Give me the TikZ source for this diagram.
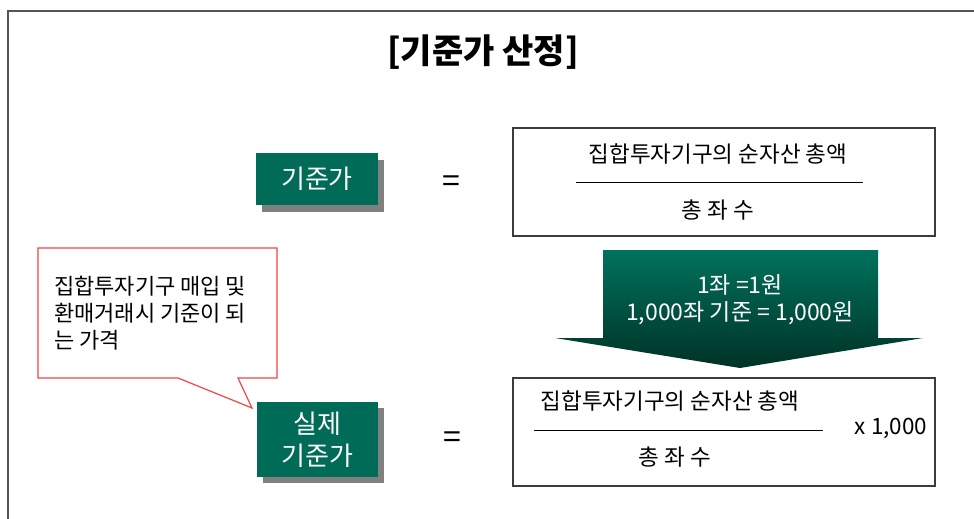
\documentclass[tikz,border=0pt]{standalone}
\usepackage{fontspec}
\setmainfont{Noto Sans CJK KR}
\definecolor{boxgreen}{RGB}{0,108,88}
\definecolor{arrowtop}{RGB}{0,114,92}
\definecolor{arrowbot}{RGB}{0,50,38}
\definecolor{shadowgray}{RGB}{128,128,128}
\definecolor{framegray}{RGB}{85,85,85}
\definecolor{calloutred}{RGB}{240,70,70}
\definecolor{boxline}{RGB}{60,60,60}
\tikzset{
  greenbox/.style={fill=boxgreen, text=white, inner sep=0pt, align=center,
    font=\fontsize{26}{32}\selectfont},
  whitebox/.style={draw=boxline, line width=1.2pt, fill=white, inner sep=0pt},
  formtext/.style={font=\fontsize{22.5}{24}\selectfont, inner sep=0pt},
  arrowtext/.style={text=white, font=\fontsize{23}{24}\selectfont, inner sep=0pt},
  eqtext/.style={font=\fontsize{32}{32}\selectfont, inner sep=0pt},
  fracline/.style={line width=1pt, black}
}
\begin{document}
\begin{tikzpicture}[x=1pt,y=-1pt]
\useasboundingbox (0,0) rectangle (974,519);
\fill[white] (0,0) rectangle (974,519);
% outer frame
\draw[framegray, line width=2.2pt] (8,519) -- (8,11) -- (974,11);
% title
\node[font=\fontsize{34}{36}\selectfont\bfseries, inner sep=0pt] (title) at (483,52) {[기준가 산정]};

% first formula
\fill[shadowgray] (262,160) rectangle (384,212);
\node[greenbox, minimum width=122, minimum height=52] (kjg) at (317,179) {기준가};
\node[eqtext] (eq1) at (451,184) {=};
\node[whitebox, minimum width=422, minimum height=108] (f1) at (724,182) {};
\node[formtext] (f1num) at (718,154) {집합투자기구의 순자산 총액};
\coordinate (f1l) at (576,182);
\coordinate (f1r) at (863,182);
\draw[fracline] (f1l) -- (f1r);
\node[formtext] (f1den) at (718,210) {총 좌 수};

% arrow
\shade[top color=arrowtop, bottom color=arrowbot]
  (603,250) -- (878,250) -- (878,338) -- (923,338) -- (740,368)
  -- (555,338) -- (603,338) -- cycle;
\node[arrowtext] (a1) at (740,285) {1좌 =1원};
\node[arrowtext] (a2) at (740,313) {1,000좌 기준 = 1,000원};

% callout
\draw[calloutred, line width=1.2pt, fill=white, line join=miter]
  (38,248) -- (277,248) -- (277,378) -- (238,378) -- (252,408)
  -- (178,378) -- (38,378) -- cycle;
\node[anchor=west, align=left, inner sep=0pt,
  font=\fontsize{22}{27}\selectfont] (ctext) at (54,313)
  {집합투자기구 매입 및\\환매거래시 기준이 되\\는 가격};

% second formula
\fill[shadowgray] (263,408) rectangle (384,483);
\node[greenbox, minimum width=121, minimum height=75] (skj) at (317.5,439.5) {실제\\기준가};
\node[eqtext] (eq2) at (452,440) {=};
\node[whitebox, minimum width=422, minimum height=108] (f2) at (724,432) {};
\node[formtext] (f2num) at (670,401) {집합투자기구의 순자산 총액};
\coordinate (f2l) at (534,430);
\coordinate (f2r) at (823,430);
\draw[fracline] (f2l) -- (f2r);
\node[formtext] (f2den) at (675,457) {총 좌 수};
\node[formtext] (times) at (891,428) {x 1,000};
\end{tikzpicture}
\end{document}
